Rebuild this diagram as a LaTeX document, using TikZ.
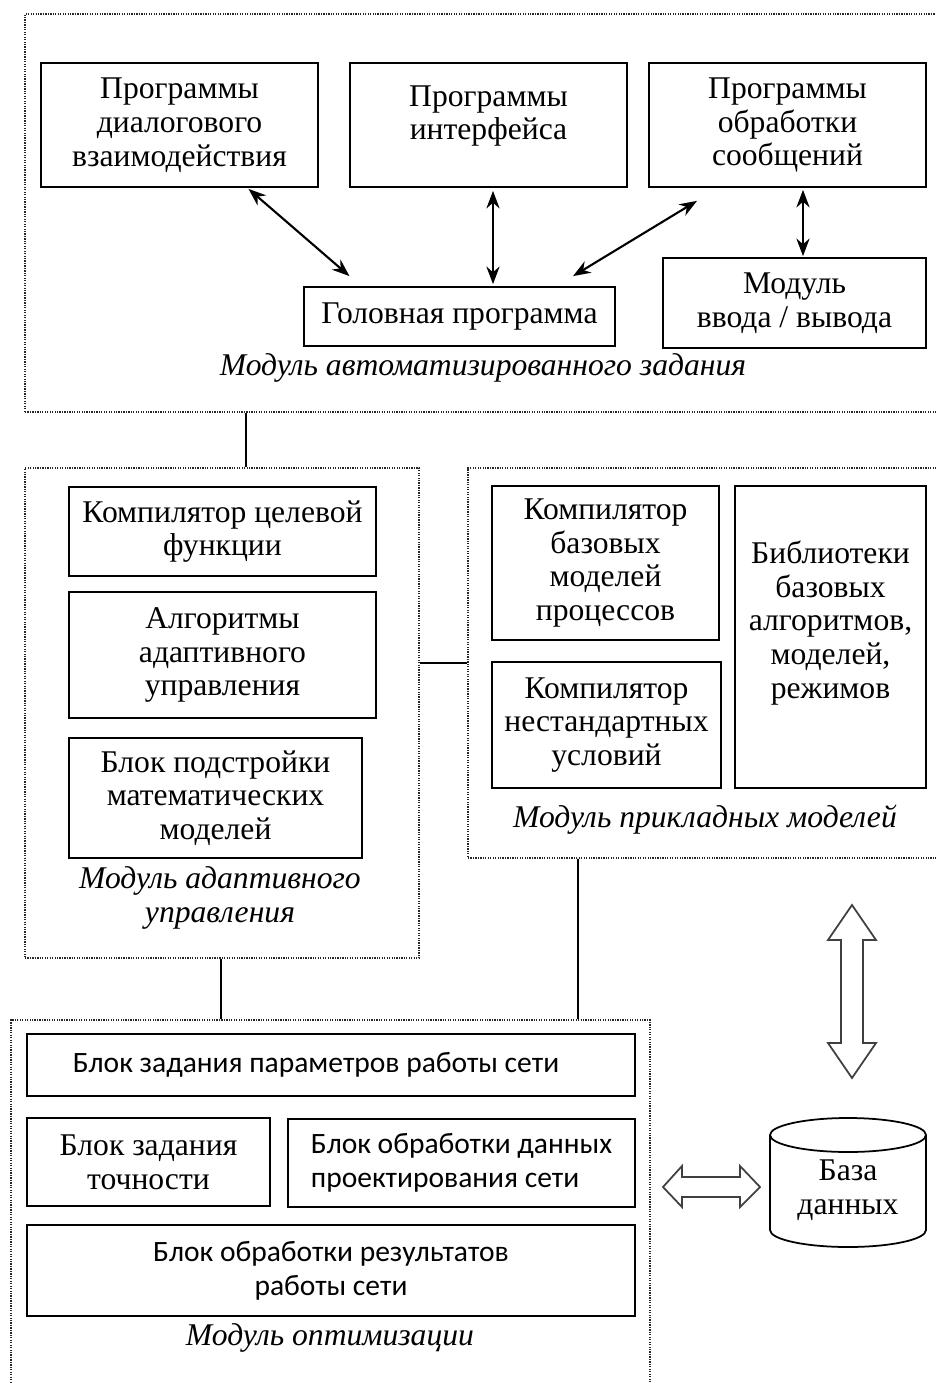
\documentclass[tikz,border=0pt]{standalone}
\usepackage{fontspec}
\setmainfont{Liberation Serif}
\newfontfamily\calfont{Carlito}
\usetikzlibrary{arrows.meta,calc}

\begin{document}
\begin{tikzpicture}[x=0.02cm,y=0.02cm,
	boxsize/.style 2 args={minimum width=#1*0.02cm,minimum height=#2*0.02cm},
	blk/.style={draw=black,line width=1pt,align=center,inner sep=0pt,font=\fontsize{18}{19.2}\selectfont},
	cblk/.style={blk,font=\calfont\fontsize{16.8}{19.5}\selectfont},
	txt/.style={align=center,inner sep=0pt,font=\fontsize{18}{19.2}\selectfont},
	modframe/.style={draw=black!85,line width=0.9pt,dash pattern=on 0.7pt off 0.7pt,inner sep=0pt},
	modname/.style={align=center,inner sep=0pt,font=\itshape\fontsize{18}{19.5}\selectfont},
	biarrow/.style={{Stealth[length=10pt,width=7.5pt]}-{Stealth[length=10pt,width=7.5pt]},line width=1.2pt}]
	\useasboundingbox (0,0) rectangle (936,-1383);
	\clip (0,0) rectangle (936,-1383);
	
	% frames of the modules
	\node[modframe,boxsize={915}{398}] (topmod) at (482.5,-213) {};
	\node[modframe,boxsize={394}{490}] (leftmod) at (222,-713) {};
	\node[modframe,boxsize={477}{390}] (rightmod) at (706.5,-663) {};
	\node[modframe,boxsize={639}{375}] (botmod) at (330.5,-1207.5) {};
	
	% automated task module
	\node[blk,boxsize={277}{124}] (dialog) at (179.5,-125) {Программы\\диалогового\\взаимодействия};
	\node[blk,boxsize={277}{124}] (iface) at (488.5,-125) {};
	\node[txt] (ifacetxt) at (488.5,-116) {Программы\\интерфейса};
	\node[blk,boxsize={277}{124}] (msg) at (787.5,-125) {Программы\\обработки\\сообщений};
	\node[blk,boxsize={311}{59}] (head) at (459.5,-316.5) {Головная программа};
	\node[blk,boxsize={263}{90}] (io) at (794.5,-303) {Модуль\\ввода / вывода};
	\node[modname] (topname) at (483,-368) {Модуль автоматизированного задания};
	
	\draw[biarrow] ($(dialog.south)+(69,-1)$) -- ($(head.north)+(-110,10)$);
	\draw[biarrow] ($(iface.south)+(4.5,-3)$) -- ($(head.north)+(33.5,2)$);
	\draw[biarrow] ($(msg.south)+(-90.5,-13)$) -- ($(head.north)+(113.5,10)$);
	\draw[biarrow] ($(msg.south)+(15.5,-2)$) -- ($(io.north)+(8.5,1)$);
	
	% adaptive control module
	\node[blk,boxsize={307}{89}] (goal) at (222.5,-531.5) {Компилятор целевой\\функции};
	\node[blk,boxsize={307}{126}] (algo) at (222.5,-655) {Алгоритмы\\адаптивного\\управления};
	\node[blk,boxsize={293}{120}] (tune) at (215.5,-798) {Блок подстройки\\математических\\моделей};
	\node[modname] (leftname) at (220,-898) {Модуль адаптивного\\управления};
	
	% applied models module
	\node[blk,boxsize={227}{154}] (basecomp) at (605.5,-563) {Компилятор\\базовых\\моделей\\процессов};
	\node[blk,boxsize={229}{126}] (nonstd) at (606.5,-725) {Компилятор\\нестандартных\\условий};
	\node[blk,boxsize={191}{302}] (lib) at (830.5,-637) {};
	\node[txt] (libtxt) at (830.5,-623) {Библиотеки\\базовых\\алгоритмов,\\моделей,\\режимов};
	\node[modname] (rightname) at (705,-820) {Модуль прикладных моделей};
	
	% optimization module
	\node[cblk,boxsize={608}{62}] (params) at (331,-1065) {\hspace*{-0.6cm}Блок задания параметров работы сети};
	\node[blk,boxsize={243}{88}] (prec) at (148.5,-1162) {Блок задания\\точности};
	\node[cblk,boxsize={347}{88},align=left] (design) at (461.5,-1163) {Блок обработки данных\\проектирования сети};
	\node[cblk,boxsize={608}{91}] (results) at (331,-1270.5) {Блок обработки результатов\\работы сети};
	\node[modname] (botname) at (330,-1338) {Модуль оптимизации};
	
	% links between modules
	\draw[line width=1pt] ($(leftmod.north)+(24,0)$) -- ($(topmod.south)+(-236.5,0)$);
	\draw[line width=1pt] (rightmod.west) -- (rightmod.west -| leftmod.east);
	\draw[line width=1pt] ($(leftmod.south)+(-1,0)$) -- ($(botmod.north)+(-109.5,0)$);
	\draw[line width=1pt] ($(rightmod.south)+(-128.5,0)$) -- ($(botmod.north)+(247.5,0)$);
	
	% data base and hollow arrows
	\draw[line width=1pt] (770,-1135) -- (770,-1230) arc[start angle=180,end angle=360,x radius=78,y radius=17] -- (926,-1135);
	\draw[line width=1pt] (848,-1135) ellipse [x radius=78,y radius=17];
	\node[txt] (db) at (848,-1190) {База\\данных};
	\draw[black!75,line width=1pt] (852,-905) -- (876,-940) -- (863,-940) -- (863,-1043) -- (876,-1043) -- (852,-1078)
		-- (828,-1043) -- (841,-1043) -- (841,-940) -- (828,-940) -- cycle;
	\draw[black!75,line width=1pt] (663,-1187) -- (682,-1166) -- (682,-1177) -- (740,-1177) -- (740,-1166) -- (760,-1187)
		-- (740,-1207) -- (740,-1197) -- (682,-1197) -- (682,-1207) -- cycle;
\end{tikzpicture}
\end{document}
